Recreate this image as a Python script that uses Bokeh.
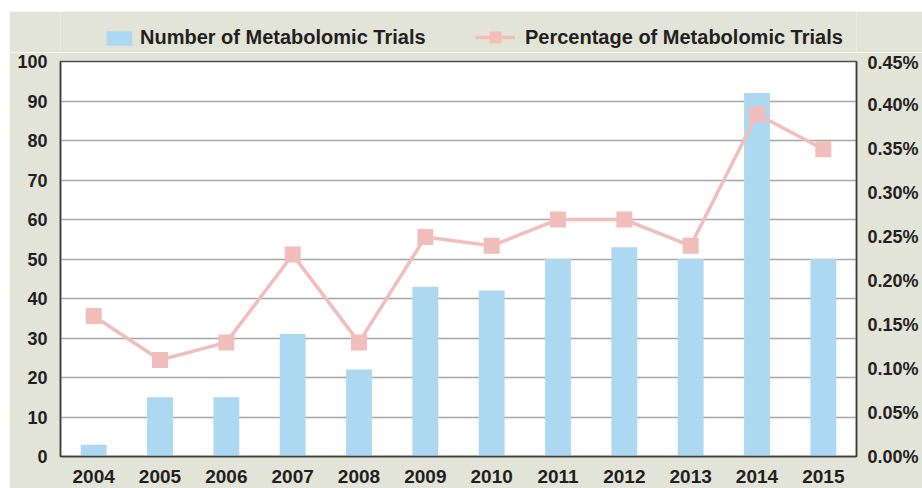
from bokeh.plotting import figure
from bokeh.models import (Range1d, FactorRange, LinearAxis, FixedTicker, PrintfTickFormatter,
                          Legend, LegendItem, ColumnDataSource, Spacer)
from bokeh.layouts import column, row
from bokeh.embed import file_html
from bokeh.resources import INLINE

years = ["2004", "2005", "2006", "2007", "2008", "2009", "2010", "2011", "2012", "2013", "2014", "2015"]
num_trials = [3, 15, 15, 31, 22, 43, 42, 50, 53, 50, 92, 50]
pct_trials = [0.16, 0.11, 0.13, 0.23, 0.13, 0.25, 0.24, 0.27, 0.27, 0.24, 0.39, 0.35]
left_ticks = [0, 10, 20, 30, 40, 50, 60, 70, 80, 90, 100]
right_ticks = [0.0, 0.05, 0.10, 0.15, 0.20, 0.25, 0.30, 0.35, 0.40, 0.45]
series_names = ["Number of Metabolomic Trials", "Percentage of Metabolomic Trials"]

BG = "#e3e4d8"
BAR = "#add8f2"
PINK = "#f2bebc"
TXT = "#231f20"
FONT = "Liberation Sans"

src = ColumnDataSource(dict(year=years, num=num_trials, pct=pct_trials))

# ---------------- main chart ----------------
p = figure(x_range=FactorRange(*years, range_padding=0), y_range=Range1d(0, 100),
           width=913, height=436, output_backend="svg", toolbar_location=None,
           min_border_left=51, min_border_right=66, min_border_top=9, min_border_bottom=32,
           background_fill_color="white", border_fill_color=BG,
           outline_line_color="#4d4d4d", outline_line_width=1.5)
p.extra_y_ranges = {"pct": Range1d(0, 0.45)}

bars = p.vbar(x="year", top="num", width=0.39, source=src, fill_color=BAR, line_color=None)
line = p.line(x="year", y="pct", source=src, y_range_name="pct", line_color=PINK, line_width=3.5)
marks = p.scatter(x="year", y="pct", source=src, y_range_name="pct", marker="square", size=16,
                  fill_color=PINK, line_color=None)

p.yaxis.ticker = FixedTicker(ticks=left_ticks)
p.xgrid.grid_line_color = None
p.ygrid.grid_line_color = "#a6a6a6"
p.ygrid.grid_line_width = 1.3

for ax in [p.xaxis[0], p.yaxis[0]]:
    ax.major_tick_line_color = None
    ax.minor_tick_line_color = None
    ax.axis_line_color = "#3a3a3a"
    ax.axis_line_width = 1.5
    ax.major_label_text_font = FONT
    ax.major_label_text_font_style = "bold"
    ax.major_label_text_color = TXT
p.xaxis.major_label_text_font_size = "19px"
p.xaxis.major_label_standoff = 7
p.yaxis.major_label_text_font_size = "18px"
p.yaxis.major_label_standoff = 7

rax = LinearAxis(y_range_name="pct", ticker=FixedTicker(ticks=right_ticks),
                 formatter=PrintfTickFormatter(format="%.2f%%"))
rax.major_tick_line_color = None
rax.minor_tick_line_color = None
rax.axis_line_color = "#3a3a3a"
rax.axis_line_width = 1.5
rax.major_label_text_font = FONT
rax.major_label_text_font_style = "bold"
rax.major_label_text_color = TXT
rax.major_label_text_font_size = "18px"
rax.major_label_standoff = 5
p.add_layout(rax, "right")

# ---------------- legend strip (frame aligned with the main frame) ----------------
lf = figure(x_range=FactorRange(*years, range_padding=0), y_range=Range1d(1000, 1001),
            width=913, height=41, output_backend="svg", toolbar_location=None,
            x_axis_location=None, y_axis_location=None,
            min_border_left=51, min_border_right=66, min_border_top=0, min_border_bottom=0,
            background_fill_color=BG, border_fill_color=BG, outline_line_color=None)
lf.xgrid.grid_line_color = None
lf.ygrid.grid_line_color = None
# same series drawn out of view; only their legend glyphs are visible
lbar = lf.vbar(x="year", top="num", width=0.39, source=src, fill_color=BAR, line_color=None)
lline = lf.line(x="year", y="pct", source=src, line_color=PINK, line_width=3.5)
lmark = lf.scatter(x="year", y="pct", source=src, marker="square", fill_color=PINK, line_color=None)

def mk_legend(item, loc, gw, gh, standoff):
    return Legend(items=[item], location=loc, orientation="horizontal",
                  glyph_width=gw, glyph_height=gh, label_standoff=standoff,
                  padding=0, margin=0, spacing=0,
                  background_fill_alpha=0, border_line_color=None,
                  label_text_font=FONT, label_text_font_style="bold",
                  label_text_font_size="20px", label_text_color=TXT)

leg1 = mk_legend(LegendItem(label=series_names[0], renderers=[lbar], index=0), (43, 3), 32, 18, 5)
leg2 = mk_legend(LegendItem(label=series_names[1], renderers=[lline, lmark], index=0), (415, 0), 40, 30, 10)
lf.add_layout(leg1, "center")
lf.add_layout(leg2, "center")

layout = column(Spacer(width=922, height=11),
                row(Spacer(width=9, height=477), column(lf, p)))

open("out.html", "w").write(file_html(layout, INLINE))
